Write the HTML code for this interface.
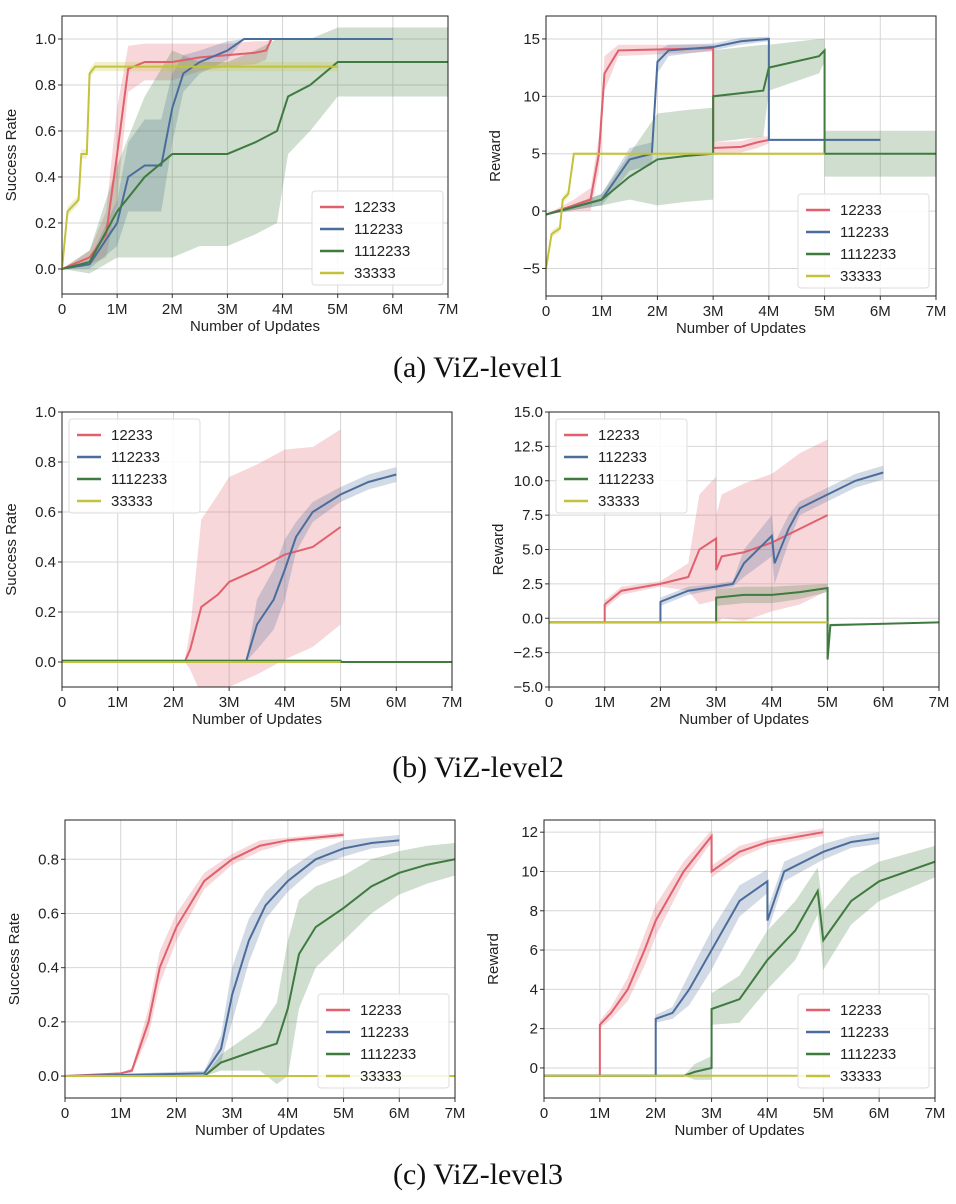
<!DOCTYPE html>
<html><head><meta charset="utf-8"><style>
body{margin:0;background:#fff;width:956px;height:1204px;overflow:hidden}
svg{display:block}
.t{font-family:"Liberation Sans",sans-serif;font-size:15px;fill:#222}
.cap{font-family:"Liberation Serif",serif;font-size:30px;fill:#111}
</style></head><body>
<svg id="fig" width="956" height="1204"></svg>
<script>
// ---- data (x in millions of updates) ----
const seriesNames=["12233","112233","1112233","33333"];
const colors=["#e0606c","#4b6d9c","#3f7a3f","#c4c23a"];
// row1 left success
const a1_red_x=[0,0.5,0.8,1.0,1.2,1.5,2,2.5,3,3.5,3.7,3.8];
const a1_red_y=[0,0.05,0.15,0.5,0.87,0.9,0.9,0.92,0.93,0.94,0.95,1.0];
const a1_red_s=[0,0.03,0.1,0.2,0.1,0.08,0.08,0.06,0.05,0.05,0.04,0];
const a1_blue_x=[0,0.5,1,1.2,1.5,1.8,2,2.2,2.5,3,3.3,6];
const a1_blue_y=[0,0.02,0.2,0.4,0.45,0.45,0.7,0.85,0.9,0.95,1.0,1.0];
const a1_blue_s=[0,0.02,0.1,0.15,0.2,0.2,0.15,0.08,0.05,0.04,0,0];
const a1_green_x=[0,0.5,1,1.5,2,2.5,3,3.5,3.9,4.1,4.5,5,7];
const a1_green_y=[0,0.03,0.25,0.4,0.5,0.5,0.5,0.55,0.6,0.75,0.8,0.9,0.9];
const a1_green_s=[0,0.05,0.2,0.35,0.45,0.4,0.4,0.4,0.4,0.25,0.2,0.15,0.15];
const a1_yel_x=[0,0.1,0.3,0.35,0.45,0.5,0.6,5];
const a1_yel_y=[0,0.25,0.3,0.5,0.5,0.85,0.88,0.88];
const a1_yel_s=[0,0.02,0.02,0.02,0.02,0.02,0.02,0.02];
// row1 right reward
const a2_red_x=[0,0.5,0.8,0.95,1.05,1.3,3,3.0001,3.5,3.8,4];
const a2_red_y=[-0.3,0.5,1,5,12,14,14.2,5.5,5.6,6,6.2];
const a2_red_s=[0,0.5,1,1.5,1.5,0.5,0.3,0.5,0.5,0.5,0.3];
const a2_blue_x=[0,1,1.5,1.9,2,2.2,3,3.5,4,4.0001,6];
const a2_blue_y=[-0.3,1,4.5,5,13,14,14.3,14.8,15,6.2,6.2];
const a2_blue_s=[0,0.5,1,1,1,0.5,0.3,0.3,0.2,0.1,0.1];
const a2_green_x=[0,1,1.5,2,2.5,3,3.0001,3.9,4,4.9,5,5.0001,7];
const a2_green_y=[-0.3,1,3,4.5,4.8,5,10,10.5,12.5,13.5,14,5,5];
const a2_green_s=[0,0.5,2,4,4,4,4,4,2,1.5,1,2,2];
const a2_yel_x=[0,0.1,0.25,0.3,0.4,0.5,5];
const a2_yel_y=[-5,-2,-1.5,1,1.5,5,5];
const a2_yel_s=[0,0.3,0.3,0.3,0.3,0.1,0.1];
// row2 left success
const b1_red_x=[0,2.2,2.3,2.5,2.8,3,3.5,4,4.5,5];
const b1_red_y=[0,0,0.05,0.22,0.27,0.32,0.37,0.43,0.46,0.54];
const b1_red_s=[0,0,0.08,0.35,0.4,0.42,0.42,0.42,0.4,0.39];
const b1_blue_x=[0,3.3,3.5,3.8,4,4.2,4.5,5,5.5,6];
const b1_blue_y=[0,0,0.15,0.25,0.37,0.5,0.6,0.67,0.72,0.75];
const b1_blue_s=[0,0,0.1,0.12,0.12,0.06,0.04,0.03,0.03,0.03];
const b1_green_x=[0,5,5.0001,7];
const b1_green_y=[0.005,0.005,0,0];
const b1_green_s=[0.005,0.005,0,0];
const b1_yel_x=[0,5];
const b1_yel_y=[0,0];
const b1_yel_s=[0,0];
// row2 right reward
const b2_red_x=[0,1,1.0001,1.3,2,2.5,2.7,3,3.0001,3.1,3.5,4,4.5,5];
const b2_red_y=[-0.3,-0.3,1,2,2.5,3,5,5.8,3.5,4.5,4.8,5.5,6.5,7.5];
const b2_red_s=[0,0,0.3,0.3,0.2,1,4,4.5,4,4.5,5,5,5.5,5.5];
const b2_blue_x=[0,2,2.0001,2.5,3,3.3,3.5,4,4.05,4.3,4.5,5,5.5,6];
const b2_blue_y=[-0.3,-0.3,1.2,2,2.3,2.5,4,6,4,6.5,8,9,10,10.6];
const b2_blue_s=[0,0,0.3,0.3,0.2,0.2,1,1.5,1.5,1,0.5,0.5,0.5,0.5];
const b2_green_x=[0,3,3.0001,3.5,4,4.5,5,5.0001,5.05,7];
const b2_green_y=[-0.3,-0.3,1.5,1.7,1.7,1.9,2.2,-3,-0.5,-0.3];
const b2_green_s=[0,0,0.6,0.6,0.6,0.5,0.3,0,0.1,0];
const b2_yel_x=[0,5];
const b2_yel_y=[-0.3,-0.3];
const b2_yel_s=[0,0];
// row3 left success
const c1_red_x=[0,1,1.2,1.5,1.7,2,2.5,3,3.5,4,5];
const c1_red_y=[0,0.01,0.02,0.2,0.4,0.55,0.72,0.8,0.85,0.87,0.89];
const c1_red_s=[0,0,0.01,0.05,0.06,0.05,0.03,0.02,0.02,0.01,0.01];
const c1_blue_x=[0,2.5,2.8,3,3.3,3.6,4,4.5,5,5.5,6];
const c1_blue_y=[0,0.01,0.1,0.3,0.5,0.63,0.72,0.8,0.84,0.86,0.87];
const c1_blue_s=[0,0.01,0.05,0.1,0.08,0.05,0.04,0.03,0.03,0.02,0.02];
const c1_green_x=[0,2.5,2.8,3.5,3.8,4,4.2,4.5,5,5.5,6,6.5,7];
const c1_green_y=[0,0,0.05,0.1,0.12,0.25,0.45,0.55,0.62,0.7,0.75,0.78,0.8];
const c1_green_s=[0,0,0.03,0.08,0.15,0.25,0.2,0.15,0.12,0.1,0.08,0.07,0.06];
const c1_yel_x=[0,7];
const c1_yel_y=[0,0];
const c1_yel_s=[0,0];
// row3 right reward
const c2_red_x=[0,1,1.0001,1.2,1.5,1.8,2,2.5,3,3.0001,3.5,4,5];
const c2_red_y=[-0.4,-0.4,2.2,2.8,4,6,7.5,10,11.8,10,11,11.5,12];
const c2_red_s=[0,0,0.2,0.3,0.6,0.8,0.8,0.5,0.3,0.3,0.3,0.2,0.2];
const c2_blue_x=[0,2,2.0001,2.3,2.6,3,3.5,4,4.0001,4.3,5,5.5,6];
const c2_blue_y=[-0.4,-0.4,2.5,2.8,4,6,8.5,9.5,7.5,10,11,11.5,11.7];
const c2_blue_s=[0,0,0.2,0.3,0.8,1,0.8,0.6,0.6,0.5,0.4,0.3,0.3];
const c2_green_x=[0,2.5,2.7,3,3.0001,3.5,4,4.5,4.9,5,5.5,6,7];
const c2_green_y=[-0.4,-0.4,-0.2,0,3,3.5,5.5,7,9,6.5,8.5,9.5,10.5];
const c2_green_s=[0,0,0.4,0.6,0.8,1.2,1.5,1.5,1.2,1.5,1.2,1,0.8];
const c2_yel_x=[0,5];
const c2_yel_y=[-0.4,-0.4];
const c2_yel_s=[0,0];
const xTickLabels=["0","1M","2M","3M","4M","5M","6M","7M"];

const NS="http://www.w3.org/2000/svg";
const svg=document.getElementById('fig');
function el(tag,attrs,parent,text){
  const e=document.createElementNS(NS,tag);
  for(const k in attrs)e.setAttribute(k,attrs[k]);
  if(text!==undefined)e.textContent=text;
  (parent||svg).appendChild(e);return e;
}
function plot(name,box,ydom,yticks,ylabel,ser,legend){
  const [x0,y0,x1,y1]=box;
  const g=el('g',{});
  
  
  const sx=v=>x0+(v/7)*(x1-x0);
  const sy=v=>y1-(v-ydom[0])/(ydom[1]-ydom[0])*(y1-y0);
  for(let i=0;i<xTickLabels.length;i++){
    const x=sx(i);
    el('line',{x1:x,x2:x,y1:y0,y2:y1,stroke:'#d6d6d6','stroke-width':1},g);
    el('line',{x1:x,x2:x,y1:y1,y2:y1+4,stroke:'#333'},g);
    const t=el('text',{x:x,y:y1+20,'text-anchor':'middle',class:'t'},g,xTickLabels[i]);
    
    
  }
  yticks.forEach(v=>{
    const y=sy(v);
    el('line',{x1:x0,x2:x1,y1:y,y2:y,stroke:'#d6d6d6','stroke-width':1},g);
    el('line',{x1:x0-4,x2:x0,y1:y,y2:y,stroke:'#333'},g);
    const t=el('text',{x:x0-6,y:y+5,'text-anchor':'end',class:'t'},g,v.label);
  });
  const clip='c'+name;
  const cp=el('clipPath',{id:clip},g);el('rect',{x:x0,y:y0,width:x1-x0,height:y1-y0},cp);
  const data=el('g',{'clip-path':`url(#${clip})`},g);
  ser.forEach((s,i)=>{
    const [xs,ys,ss]=s;
    let up=xs.map((x,j)=>sx(x)+','+sy(ys[j]+ss[j]));
    let lo=xs.map((x,j)=>sx(x)+','+sy(ys[j]-ss[j])).reverse();
    const b=el('polygon',{points:up.concat(lo).join(' '),fill:colors[i],'fill-opacity':0.25},data);
    
    
  });
  ser.forEach((s,i)=>{
    const [xs,ys]=s;
    const l=el('polyline',{points:xs.map((x,j)=>sx(x)+','+sy(ys[j])).join(' '),fill:'none',stroke:colors[i],'stroke-width':2},data);
    
    
  });
  el('rect',{x:x0,y:y0,width:x1-x0,height:y1-y0,fill:'none',stroke:'#222','stroke-width':1},g);
  const xl=el('text',{x:(x0+x1)/2,y:y1+37,'text-anchor':'middle',class:'t'},g,'Number of Updates');
  
  
  const yx=x0-46;
  const yl=el('text',{x:yx,y:(y0+y1)/2,'text-anchor':'middle',class:'t',transform:`rotate(-90 ${yx} ${(y0+y1)/2})`},g,ylabel);
  
  
  const [lx,ly]=legend;
  const lg=el('g',{},g);
  
  
  el('rect',{x:lx,y:ly,width:131,height:94,rx:3,fill:'#fff','fill-opacity':0.85,stroke:'#ddd'},lg);
  seriesNames.forEach((n,i)=>{
    const yy=ly+16+i*22;
    el('line',{x1:lx+8,x2:lx+32,y1:yy,y2:yy,stroke:colors[i],'stroke-width':2.5},lg);
    const t=el('text',{x:lx+42,y:yy+5,class:'t'},lg,n);
    
    
  });
}
const T=(arr,f)=>arr.map(v=>({v:v,label:f(v)}));
function ticks(arr,f){return arr.map(v=>Object.assign(new Number(v),{label:f(v)}));}
const f1=v=>v.toFixed(1);
const fr=v=>v<0?'\u2212'+Math.abs(v).toFixed(1):v.toFixed(1);
const fi=v=>v<0?'\u2212'+Math.abs(v):String(v);
plot('plot-level1-success',[62,16,448,294],[-0.109,1.1],ticks([0,0.2,0.4,0.6,0.8,1.0],f1),'Success Rate',
 [[a1_red_x,a1_red_y,a1_red_s],[a1_blue_x,a1_blue_y,a1_blue_s],[a1_green_x,a1_green_y,a1_green_s],[a1_yel_x,a1_yel_y,a1_yel_s]],[312,191]);
plot('plot-level1-reward',[546,16,936,296],[-7.4,17.0],ticks([-5,0,5,10,15],fi),'Reward',
 [[a2_red_x,a2_red_y,a2_red_s],[a2_blue_x,a2_blue_y,a2_blue_s],[a2_green_x,a2_green_y,a2_green_s],[a2_yel_x,a2_yel_y,a2_yel_s]],[798,194]);
plot('plot-level2-success',[62,412,452,687],[-0.1,1.0],ticks([0,0.2,0.4,0.6,0.8,1.0],f1),'Success Rate',
 [[b1_red_x,b1_red_y,b1_red_s],[b1_blue_x,b1_blue_y,b1_blue_s],[b1_green_x,b1_green_y,b1_green_s],[b1_yel_x,b1_yel_y,b1_yel_s]],[69,419]);
plot('plot-level2-reward',[549,412,939,687],[-5,15],ticks([-5,-2.5,0,2.5,5,7.5,10,12.5,15],fr),'Reward',
 [[b2_red_x,b2_red_y,b2_red_s],[b2_blue_x,b2_blue_y,b2_blue_s],[b2_green_x,b2_green_y,b2_green_s],[b2_yel_x,b2_yel_y,b2_yel_s]],[556,419]);
plot('plot-level3-success',[65,820,455,1098],[-0.081,0.945],ticks([0,0.2,0.4,0.6,0.8],f1),'Success Rate',
 [[c1_red_x,c1_red_y,c1_red_s],[c1_blue_x,c1_blue_y,c1_blue_s],[c1_green_x,c1_green_y,c1_green_s],[c1_yel_x,c1_yel_y,c1_yel_s]],[318,994]);
plot('plot-level3-reward',[544,820,935,1098],[-1.53,12.62],ticks([0,2,4,6,8,10,12],fi),'Reward',
 [[c2_red_x,c2_red_y,c2_red_s],[c2_blue_x,c2_blue_y,c2_blue_s],[c2_green_x,c2_green_y,c2_green_s],[c2_yel_x,c2_yel_y,c2_yel_s]],[798,994]);
[["(a) ViZ-level1",377,'caption-a'],["(b) ViZ-level2",777,'caption-b'],["(c) ViZ-level3",1184,'caption-c']].forEach(c=>{
  const t=el('text',{x:478,y:c[1],'text-anchor':'middle',class:'cap'},svg,c[0]);
  
  
});
</script>
</body></html>
